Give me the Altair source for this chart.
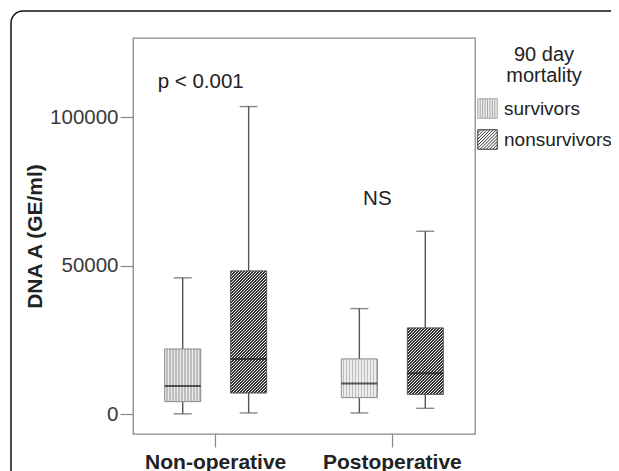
import altair as alt
import pandas as pd

# ---- data ----
groups = ["Non-operative", "Non-operative", "Postoperative", "Postoperative"]
mortality = ["survivors", "nonsurvivors", "survivors", "nonsurvivors"]
whisker_low = [100, 400, 400, 1950]
q1 = [4200, 7100, 5550, 6650]
median = [9500, 18600, 10300, 13750]
q3 = [21950, 48250, 18600, 29050]
whisker_high = [45900, 103600, 35550, 61600]

ann_group = ["Non-operative", "Postoperative"]
ann_value = [112000, 72300]
ann_text = ["p < 0.001", "NS"]

y_ticks = [0, 50000, 100000]
y_domain = [-6700, 126700]
series_order = ["survivors", "nonsurvivors"]
group_order = ["Non-operative", "Postoperative"]

df = pd.DataFrame({
    "group": groups, "mortality": mortality, "low": whisker_low,
    "q1": q1, "median": median, "q3": q3, "high": whisker_high,
})
ann = pd.DataFrame({"group": ann_group, "value": ann_value, "text": ann_text})

W_PLOT, H_PLOT = 342, 396
BOX_W = 36
px_per_unit = H_PLOT / (y_domain[1] - y_domain[0])


def stripe_stops(period, length, dark, light, dark_frac):
    stops = []
    k = 0
    while True:
        a = k * period / length
        if a >= 1:
            break
        b = min(a + (1 - dark_frac) * period / length, 1)
        c = min((k + 1) * period / length, 1)
        stops += [(a, light), (b, light), (b, dark), (c, dark)]
        k += 1
    return [alt.GradientStop(offset=round(o, 5), color=col) for o, col in stops]


def vertical_stripes():
    return alt.LinearGradient(
        gradient="linear", x1=0, y1=0, x2=1, y2=0,
        stops=stripe_stops(3.0, BOX_W, "#bdbdbd", "#ededed", 0.5),
    )


def diagonal_hatch(h):
    w = BOX_W
    a = w * (w + h) / (w * w + h * h)
    return alt.LinearGradient(
        gradient="linear", x1=0, y1=0, x2=a, y2=a * h / w,
        stops=stripe_stops(3.0, w + h, "#333333", "#f0f0f0", 0.55),
    )


x_enc = alt.X("group:N", sort=group_order,
              scale=alt.Scale(paddingInner=0.2534, paddingOuter=0.0947),
              axis=alt.Axis(title=None, labelFontSize=21, labelFontWeight="bold",
                            labelColor="#222222", tickSize=13, tickColor="#888888",
                            tickWidth=1.2, labelPadding=4, domain=False, labelAngle=0))
xo_enc = alt.XOffset("mortality:N", sort=series_order,
                     scale=alt.Scale(domain=series_order, paddingInner=0, paddingOuter=0))
y_scale = alt.Scale(domain=y_domain, nice=False, zero=False)
y_axis = alt.Axis(title="DNA A (GE/ml)", titleFontSize=21, titleFontWeight="bold",
                  titleColor="#222222", titlePadding=4, values=y_ticks, format="d",
                  labelFontSize=20.5, labelColor="#3a3a3a", tickSize=13, tickColor="#888888",
                  tickWidth=1.2, labelPadding=2, domain=False, grid=False)

base = alt.Chart(df)

whiskers = base.mark_rule(color="#555555", strokeWidth=1.4).encode(
    x=x_enc, xOffset=xo_enc,
    y=alt.Y("low:Q", scale=y_scale, axis=y_axis), y2="high:Q")

surv_boxes = base.transform_filter(alt.datum.mortality == "survivors").mark_bar(
    width=BOX_W, fill=vertical_stripes(), stroke="#8a8a8a", strokeWidth=1).encode(
    x=x_enc, xOffset=xo_enc, y=alt.Y("q1:Q", scale=y_scale), y2="q3:Q")

hatch_layers = []
for g in group_order:
    i = [k for k in range(len(groups)) if groups[k] == g and mortality[k] == "nonsurvivors"][0]
    h = (q3[i] - q1[i]) * px_per_unit
    hatch_layers.append(
        base.transform_filter(
            (alt.datum.mortality == "nonsurvivors") & (alt.datum.group == g)
        ).mark_bar(width=BOX_W, fill=diagonal_hatch(h), stroke="#555555", strokeWidth=1).encode(
            x=x_enc, xOffset=xo_enc, y=alt.Y("q1:Q", scale=y_scale), y2="q3:Q")
    )

caps_low = base.mark_tick(size=18, thickness=1.4, color="#555555").encode(
    x=x_enc, xOffset=xo_enc, y=alt.Y("low:Q", scale=y_scale))
caps_high = base.mark_tick(size=18, thickness=1.4, color="#555555").encode(
    x=x_enc, xOffset=xo_enc, y=alt.Y("high:Q", scale=y_scale))
medians = base.mark_tick(size=BOX_W, thickness=2, color="#1a1a1a").encode(
    x=x_enc, xOffset=xo_enc, y=alt.Y("median:Q", scale=y_scale))


# legend symbols as custom paths (pattern look-alikes)
def path_vertical():
    p = "M-1,-1H1V1H-1Z"
    for k in range(1, 8):
        x = -1 + k * 0.25
        p += f"M{x:.3f},-1V1"
    return p


def path_diagonal():
    p = "M-1,-1H1V1H-1Z"
    c = -2 + 0.32
    while c < 2:
        if c <= 0:
            p += f"M-1,{c + 1:.3f}L{c + 1:.3f},-1"
        else:
            p += f"M{c - 1:.3f},1L1,{c - 1:.3f}"
        c += 0.32
    return p


leg_title = ["90 day", "mortality"]
leg = alt.Legend(orient="none", legendX=344, legendY=7, title=leg_title,
                 titleFontSize=20, titleFontWeight="normal", titleColor="#222222",
                 titleLineHeight=21, titleAlign="center", titleAnchor="middle",
                 titlePadding=12, labelFontSize=19, labelColor="#222222",
                 labelOffset=6, symbolSize=380, symbolOpacity=1, symbolStrokeWidth=1,
                 rowPadding=6, padding=0)
legend_layer = base.mark_point(opacity=0, size=1, filled=True).encode(
    x=x_enc, xOffset=xo_enc, y=alt.Y("median:Q", scale=y_scale),
    fill=alt.Fill("mortality:N", sort=series_order, title=leg_title, legend=leg,
                  scale=alt.Scale(domain=series_order, range=["#ececec", "#ffffff"])),
    stroke=alt.Stroke("mortality:N", sort=series_order, title=leg_title, legend=leg,
                      scale=alt.Scale(domain=series_order, range=["#a8a8a8", "#333333"])),
    shape=alt.Shape("mortality:N", sort=series_order, title=leg_title, legend=leg,
                    scale=alt.Scale(domain=series_order, range=[path_vertical(), path_diagonal()])),
)

annotations = alt.Chart(ann).mark_text(fontSize=20.5, color="#222222", dx=-15,
                                       baseline="middle", align="center").encode(
    x=x_enc, y=alt.Y("value:Q", scale=y_scale), text="text:N")

frame = alt.Chart(alt.InlineData(values=[{"k": 1}])).mark_rect(
    fill=None, stroke="#111111", strokeWidth=1.5, cornerRadius=12, clip=False).encode(
    x=alt.value(-122), x2=alt.value(520), y=alt.value(-27), y2=alt.value(460))

chart = alt.layer(
    whiskers, surv_boxes, *hatch_layers, caps_low, caps_high, medians,
    annotations, legend_layer, frame,
).properties(
    width=W_PLOT, height=H_PLOT,
    padding={"left": 125, "top": 30, "right": 136, "bottom": 37},
    autosize=alt.AutoSizeParams(type="none"),
).configure(font="Liberation Sans").configure_view(stroke="#8a8a8a", strokeWidth=1.3)

chart.save("out.html", embed_options={"renderer": "svg", "actions": False})
